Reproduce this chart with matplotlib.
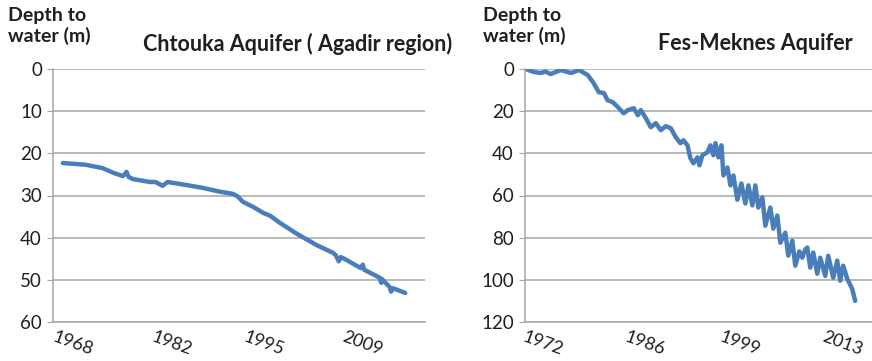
import matplotlib
matplotlib.use("Agg")
import matplotlib.pyplot as plt

plt.rcParams['font.family'] = ['Lato', 'DejaVu Sans']

# ---- Data: Chtouka Aquifer (Agadir region) ----
chtouka_years = [1969.0, 1972.2, 1974.6, 1976.1, 1977.5, 1978.0, 1978.3, 1978.9,
                 1981.3, 1982.1, 1983.1, 1983.8, 1986.4, 1988.8, 1991.2, 1993.0,
                 1993.7, 1994.45, 1995.9, 1997.3, 1998.3, 1999.7, 2001.9, 2004.8,
                 2007.2, 2007.6, 2008.0, 2008.3, 2009.0, 2011.1, 2011.4, 2011.6,
                 2013.8, 2014.0, 2014.1, 2015.2, 2015.4, 2015.7, 2017.4]
chtouka_depth = [22.3, 22.7, 23.5, 24.6, 25.4, 24.4, 25.6, 26.1,
                 26.8, 26.8, 27.7, 26.8, 27.5, 28.2, 29.1, 29.6,
                 30.2, 31.5, 32.7, 34.1, 34.8, 36.5, 38.9, 41.7,
                 43.6, 44.2, 45.6, 44.6, 45.2, 47.2, 46.4, 47.6,
                 49.5, 50.7, 49.8, 51.7, 52.8, 52.0, 53.1]

# ---- Data: Fes-Meknes Aquifer ----
fes_years = [1972.0, 1973.1, 1974.05, 1974.7, 1975.4, 1976.8, 1978.2, 1979.3,
             1980.5, 1981.3, 1982.0, 1982.7, 1983.2, 1983.9, 1984.6, 1985.4,
             1985.97, 1986.79, 1987.34, 1987.75, 1988.44, 1989.12, 1989.81,
             1990.49, 1991.18, 1991.86, 1992.55,
             1993.18, 1993.59, 1994.14, 1994.55, 1994.96, 1995.51, 1995.78,
             1996.19, 1996.87, 1997.28, 1997.69, 1997.97, 1998.38, 1998.79,
             1999.06, 1999.61, 2000.02, 2000.43, 2000.97, 2001.52, 2002.07,
             2002.48, 2003.02, 2003.43, 2003.84, 2004.39, 2004.80, 2005.48,
             2005.89, 2006.44, 2006.85, 2007.53, 2007.94, 2008.49, 2008.90,
             2009.45, 2009.86, 2010.27, 2010.54, 2010.95, 2011.36, 2011.91,
             2012.32, 2013.00, 2013.41, 2014.09, 2014.64, 2015.05, 2015.46,
             2016.01, 2016.69, 2017.10]
fes_depth = [0.0, 1.4, 1.9, 1.2, 2.4, 0.5, 1.9, 0.5,
             2.9, 6.7, 11.0, 11.4, 14.8, 15.7, 18.0, 21.0,
             19.5, 18.6, 21.9, 19.5, 23.3, 27.6, 25.7,
             29.0, 27.1, 28.1, 32.4,
             35.2, 33.8, 36.2, 42.4, 44.7, 41.9, 45.7,
             40.9, 39.5, 36.2, 40.9, 35.2, 41.9, 36.2,
             50.5, 46.7, 55.2, 50.5, 62.0, 54.3, 63.8,
             55.2, 64.7, 55.2, 65.7, 60.9, 74.3, 65.7,
             75.7, 69.5, 82.4, 77.6, 88.5, 81.4, 93.3,
             86.5, 89.5, 85.5, 84.7, 94.2, 87.1, 97.1,
             89.5, 98.1, 88.6, 99.0, 90.9, 100.4, 93.3,
             99.5, 104.3, 110.0]

left_ticks = [1968, 1982, 1995, 2009]
right_ticks = [1972, 1986, 1999, 2013]
left_yticks = [0, 10, 20, 30, 40, 50, 60]
right_yticks = [0, 20, 40, 60, 80, 100, 120]

LINE = '#4a7ebb'
GRID = '#a6a6a6'
TXT = '#1f1f1f'

fig = plt.figure(figsize=(8.72, 3.61), dpi=100)
axL = fig.add_axes([53/872, 1-322/361, 372/872, 253/361])
axR = fig.add_axes([525/872, 1-322/361, 347/872, 253/361])

def style(ax, xt, yt, xlim, ylim):
    ax.set_xlim(*xlim)
    ax.set_ylim(*ylim)
    ax.set_yticks(yt)
    ax.set_xticks(xt)
    ax.set_xticklabels([str(t) for t in xt], rotation=-20, ha='left', va='top',
                       rotation_mode='anchor')
    ax.grid(axis='y', color=GRID, linewidth=1.1)
    ax.set_axisbelow(True)
    for s in ['top', 'right']:
        ax.spines[s].set_visible(False)
    for s in ['left', 'bottom']:
        ax.spines[s].set_color(GRID)
        ax.spines[s].set_linewidth(1.1)
    ax.tick_params(axis='y', length=4, color=GRID, labelsize=13.5, labelcolor=TXT, pad=4)
    ax.tick_params(axis='x', length=0, labelsize=13, labelcolor=TXT, pad=5)

axL.plot(chtouka_years, chtouka_depth, color=LINE, linewidth=3.2,
         solid_capstyle='round', solid_joinstyle='round')
style(axL, left_ticks, left_yticks, (1967.6, 2020.2), (60, 0))

axR.plot(fes_years, fes_depth, color=LINE, linewidth=3.2,
         solid_capstyle='round', solid_joinstyle='round')
style(axR, right_ticks, right_yticks, (1971.9, 2019.4), (120, 0))

fig.text(8/872, 1-7/361, 'Depth to\nwater (m)', ha='left', va='top',
         fontsize=14, fontweight='bold', color=TXT, linespacing=1.2)
fig.text(483/872, 1-7/361, 'Depth to\nwater (m)', ha='left', va='top',
         fontsize=14, fontweight='bold', color=TXT, linespacing=1.2)
fig.text(143/872, 1-44/361, 'Chtouka Aquifer ( Agadir region)', ha='left',
         va='center', fontsize=15.5, fontweight='bold', color=TXT)
fig.text(658/872, 1-44/361, 'Fes-Meknes Aquifer', ha='left',
         va='center', fontsize=15.5, fontweight='bold', color=TXT)

fig.savefig('out.png', dpi=100, facecolor='white')
